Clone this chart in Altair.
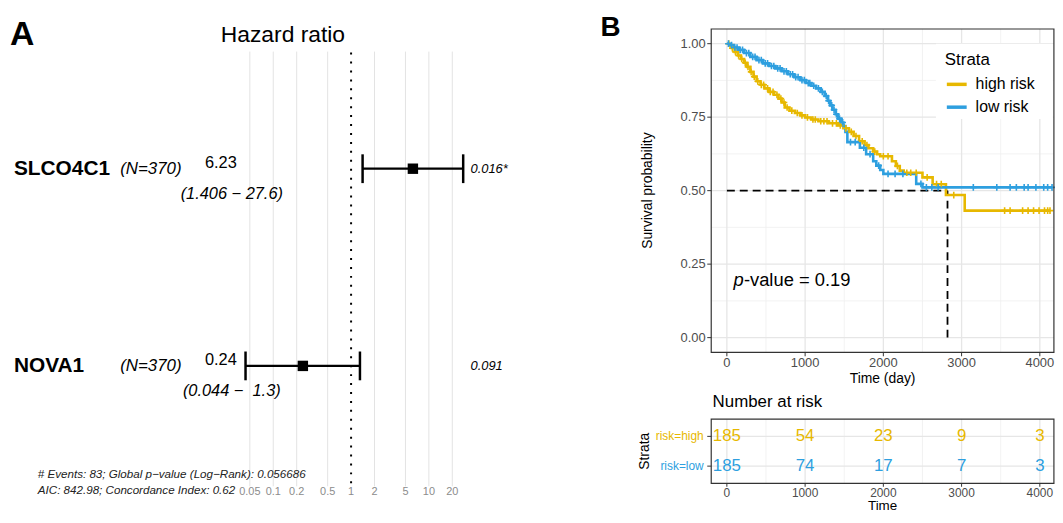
import bisect
import altair as alt
import pandas as pd

FONT = "Liberation Sans"
GOLD = "#E7B800"
BLUE = "#2E9FDF"

# ---------------- Panel A: forest plot data ----------------
genes = ["SLCO4C1", "NOVA1"]
gene_rows = [1, 0]
n_labels = ["(N=370)", "(N=370)"]
hr = [6.23, 0.24]
hr_lo = [1.406, 0.044]
hr_hi = [27.6, 1.3]
hr_text = ["6.23", "0.24"]
ci_text = ["(1.406 \u2212 27.6)", "(0.044 \u2212\u00a0 1.3)"]
p_text = ["0.016*", "0.091"]
hr_ticks = [0.05, 0.1, 0.2, 0.5, 1, 2, 5, 10, 20]
hr_tick_labels = ["0.05", "0.1", "0.2", "0.5", "1", "2", "5", "10", "20"]
footer_lines = ["# Events: 83; Global p\u2212value (Log\u2212Rank): 0.056686",
                "AIC: 842.98; Concordance Index: 0.62"]

# ---------------- Panel B: Kaplan-Meier data ----------------
strata_names = ["high risk", "low risk"]
high_t = [0, 30, 60, 100, 140, 180, 220, 260, 300, 340, 380, 430, 480, 540, 600, 660, 700, 740,
          800, 870, 940, 1000, 1080, 1170, 1300, 1420, 1490, 1560, 1620, 1690, 1760, 1810, 1870,
          1920, 1960, 2110, 2160, 2210, 2260, 2500, 2630, 2800, 3040, 4130]
high_s = [1.0, 0.994, 0.985, 0.972, 0.96, 0.948, 0.935, 0.921, 0.904, 0.888, 0.872, 0.86, 0.848,
          0.836, 0.826, 0.813, 0.8, 0.783, 0.772, 0.764, 0.756, 0.749, 0.742, 0.736, 0.729, 0.722,
          0.712, 0.7, 0.686, 0.668, 0.655, 0.644, 0.633, 0.624, 0.617, 0.6, 0.584, 0.568, 0.561,
          0.545, 0.522, 0.485, 0.432, 0.432]
low_t = [0, 40, 90, 150, 220, 300, 380, 460, 540, 620, 700, 780, 860, 940, 1010, 1080, 1140, 1200,
         1250, 1290, 1320, 1350, 1390, 1420, 1460, 1490, 1515, 1540, 1700, 1780, 1870, 1910, 1960,
         2000, 2420, 2500, 4156]
low_s = [1.0, 0.995, 0.987, 0.979, 0.968, 0.955, 0.944, 0.933, 0.924, 0.916, 0.906, 0.896, 0.886,
         0.876, 0.866, 0.857, 0.848, 0.836, 0.822, 0.806, 0.79, 0.775, 0.76, 0.745, 0.732, 0.72,
         0.7, 0.665, 0.646, 0.624, 0.6, 0.585, 0.57, 0.557, 0.523, 0.511, 0.511]
high_censor = [25, 70, 110, 150, 190, 235, 270, 310, 350, 395, 440, 470, 520, 555, 590, 640, 690,
               730, 770, 830, 900, 960, 1030, 1100, 1130, 1200, 1240, 1280, 1350, 1400, 1450, 1520,
               1590, 1650, 1730, 1790, 1890, 2000, 2060, 2180, 2300, 2350, 2420, 2560, 2680, 2740,
               2900, 3550, 3620, 3780, 3850, 3920, 3990, 4060, 4100, 4130]
low_censor = [20, 60, 100, 130, 170, 200, 250, 280, 330, 360, 410, 440, 490, 520, 570, 600, 650,
              680, 730, 760, 810, 840, 880, 910, 960, 990, 1040, 1060, 1110, 1170, 1220, 1270, 1300,
              1340, 1370, 1400, 1440, 1480, 1580, 1640, 1750, 1830, 1940, 2060, 2150, 2250, 2480,
              2550, 2620, 2700, 3150, 3450, 3620, 3700, 3800, 3850, 3950, 4050, 4100, 4156]
median_high = 2820
p_value_rest = "-value = 0.19"
km_xticks = [0, 1000, 2000, 3000, 4000]
km_xminor = [500, 1500, 2500, 3500]
km_xlabels = ["0", "1000", "2000", "3000", "4000"]
km_yticks = [0.0, 0.25, 0.5, 0.75, 1.0]
km_yminor = [0.125, 0.375, 0.625, 0.875]
km_ylabels = ["0.00", "0.25", "0.50", "0.75", "1.00"]

# ---------------- Number at risk ----------------
risk_times = [0, 1000, 2000, 3000, 4000]
risk_high = [185, 54, 23, 9, 3]
risk_low = [185, 74, 17, 7, 3]
risk_labels = ["risk=high", "risk=low"]


def one(text):
    return alt.Chart(pd.DataFrame({"t": [text]}))


# ================= Panel A =================
forest = pd.DataFrame(dict(gene=genes, row=gene_rows, n=n_labels, hr=hr, lo=hr_lo, hi=hr_hi,
                           hr_text=hr_text, ci=ci_text, p=p_text))
tick_df = pd.DataFrame({"v": hr_ticks, "lab": hr_tick_labels})
fx = alt.Scale(type="log", domain=[0.05, 20], range=[243.7, 447.7], nice=False)
fy = alt.Scale(domain=[0, 1], range=[358.7, 160], nice=False, zero=False)


def FX(f):
    return alt.X(f, scale=fx, axis=None)


def FY(f):
    return alt.Y(f, scale=fy, axis=None)


f_grid = alt.Chart(tick_df).transform_filter("datum.v != 1").mark_rule(
    color="#e3e3e3", strokeWidth=1).encode(x=FX("v:Q"), y=alt.value(42), y2=alt.value(480))
f_ref = alt.Chart(tick_df).transform_filter("datum.v == 1").mark_rule(
    color="black", strokeWidth=2, strokeDash=[2, 7]).encode(x=FX("v:Q"), y=alt.value(43), y2=alt.value(482))
f_ticklab = alt.Chart(tick_df).mark_text(fontSize=11, color="#8c8c8c", baseline="middle").encode(
    x=FX("v:Q"), y=alt.value(486), text="lab:N")
f_bar = alt.Chart(forest).mark_rule(color="black", strokeWidth=2.2).encode(
    x=FX("lo:Q"), x2="hi:Q", y=FY("row:Q"))
f_cap_lo = alt.Chart(forest).mark_tick(orient="vertical", size=29, thickness=2.5, color="black",
                                       opacity=1).encode(x=FX("lo:Q"), y=FY("row:Q"))
f_cap_hi = alt.Chart(forest).mark_tick(orient="vertical", size=29, thickness=2.5, color="black",
                                       opacity=1).encode(x=FX("hi:Q"), y=FY("row:Q"))
f_sq = alt.Chart(forest).mark_square(size=110, color="black", opacity=1).encode(
    x=FX("hr:Q"), y=FY("row:Q"))
f_gene = alt.Chart(forest).mark_text(align="left", baseline="middle", fontSize=21,
                                     fontWeight="bold", color="black").encode(
    x=alt.value(6), y=FY("row:Q"), text="gene:N")
f_n = alt.Chart(forest).mark_text(align="left", baseline="middle", fontSize=17,
                                  fontStyle="italic", color="black").encode(
    x=alt.value(113), y=FY("row:Q"), text="n:N")
f_hr = alt.Chart(forest).mark_text(align="right", baseline="middle", fontSize=16.5, dy=-6,
                                   color="black").encode(
    x=alt.value(230.5), y=FY("row:Q"), text="hr_text:N")
f_ci = alt.Chart(forest).mark_text(align="center", baseline="middle", fontSize=16.5, dy=25.5,
                                   fontStyle="italic", color="black").encode(
    x=alt.value(225.5), y=FY("row:Q"), text="ci:N")
f_p = alt.Chart(forest).mark_text(align="left", baseline="middle", fontSize=13,
                                  fontStyle="italic", color="black").encode(
    x=alt.value(466), y=FY("row:Q"), text="p:N")
f_foot = [one(txt).mark_text(align="left", baseline="middle", fontSize=11.7, fontStyle="italic",
                             color="#222222").encode(x=alt.value(30), y=alt.value(468 + 16 * i),
                                                     text="t:N")
          for i, txt in enumerate(footer_lines)]
f_title = one("Hazard ratio").mark_text(fontSize=23, baseline="middle", color="black").encode(
    x=alt.value(277), y=alt.value(25), text="t:N")
f_letter = one("A").mark_text(fontSize=34, fontWeight="bold", align="left", baseline="alphabetic",
                              color="black").encode(x=alt.value(2), y=alt.value(35), text="t:N")

forest_layer = alt.layer(f_grid, f_ref, f_ticklab, f_bar, f_cap_lo, f_cap_hi, f_sq, f_gene, f_n,
                         f_hr, f_ci, f_p, *f_foot, f_title, f_letter)

# ================= Panel B: KM =================
KX0, KX1 = 708.6, 1053.9
KY0, KY1 = 345.0, 19.2
kx_dom = [-200, 4180]


def KX(f):
    return alt.X(f, scale=alt.Scale(domain=kx_dom, range=[KX0, KX1], nice=False, zero=False), axis=None)


def KY(f):
    return alt.Y(f, scale=alt.Scale(domain=[-0.05, 1.05], range=[KY0, KY1], nice=False, zero=False),
                 axis=None)


km_df = pd.concat([
    pd.DataFrame({"t": high_t, "s": high_s, "strata": strata_names[0]}),
    pd.DataFrame({"t": low_t, "s": low_s, "strata": strata_names[1]}),
])


def surv_at(ts, ss, t):
    return ss[bisect.bisect_right(ts, t) - 1]


cens_df = pd.concat([
    pd.DataFrame({"t": high_censor, "s": [surv_at(high_t, high_s, c) for c in high_censor],
                  "strata": strata_names[0]}),
    pd.DataFrame({"t": low_censor, "s": [surv_at(low_t, low_s, c) for c in low_censor],
                  "strata": strata_names[1]}),
])
col_scale = alt.Scale(domain=strata_names, range=[GOLD, BLUE])

k_vmaj = alt.Chart(pd.DataFrame({"t": km_xticks})).mark_rule(color="#e6e6e6", strokeWidth=1.3).encode(
    x=KX("t:Q"), y=alt.value(KY1), y2=alt.value(KY0))
k_vmin = alt.Chart(pd.DataFrame({"t": km_xminor})).mark_rule(color="#efefef", strokeWidth=0.8).encode(
    x=KX("t:Q"), y=alt.value(KY1), y2=alt.value(KY0))
k_hmaj = alt.Chart(pd.DataFrame({"s": km_yticks})).mark_rule(color="#e6e6e6", strokeWidth=1.3).encode(
    y=KY("s:Q"), x=alt.value(KX0), x2=alt.value(KX1))
k_hmin = alt.Chart(pd.DataFrame({"s": km_yminor})).mark_rule(color="#efefef", strokeWidth=0.8).encode(
    y=KY("s:Q"), x=alt.value(KX0), x2=alt.value(KX1))
k_legbg = one("").mark_rect(color="white").encode(
    x=alt.value(935), x2=alt.value(KX1 - 1), y=alt.value(34), y2=alt.value(110))
med_df = pd.DataFrame({"t0": [0], "t1": [median_high], "s0": [0.0], "s1": [0.5]})
k_med_h = alt.Chart(med_df).mark_rule(color="black", strokeWidth=1.8, strokeDash=[8, 5]).encode(
    x=KX("t0:Q"), x2="t1:Q", y=KY("s1:Q"))
k_med_v = alt.Chart(med_df).mark_rule(color="black", strokeWidth=1.8, strokeDash=[8, 5]).encode(
    x=KX("t1:Q"), y=KY("s0:Q"), y2="s1:Q")
k_line = alt.Chart(km_df).mark_line(interpolate="step-after", strokeWidth=2.6).encode(
    x=KX("t:Q"), y=KY("s:Q"),
    color=alt.Color("strata:N", scale=col_scale, legend=alt.Legend(
        orient="none", legendX=937, legendY=36, title="Strata", titleFont=FONT, titleFontSize=17,
        titleFontWeight="normal", titleColor="black", labelFont=FONT, labelFontSize=16,
        labelColor="black", symbolType="stroke", symbolSize=400, symbolStrokeWidth=3.5,
        labelOffset=7, rowPadding=3, titlePadding=3, padding=7)))
k_cens = alt.Chart(cens_df).mark_point(shape="M-1,0L1,0M0,-1L0,1", filled=False, size=45,
                                       strokeWidth=1.6, opacity=1).encode(
    x=KX("t:Q"), y=KY("s:Q"), color=alt.Color("strata:N", scale=col_scale, legend=None))
k_border = one("").mark_rect(fillOpacity=0, stroke="#333333", strokeWidth=1.2).encode(
    x=alt.value(KX0), x2=alt.value(KX1), y=alt.value(KY1), y2=alt.value(KY0))
ky_df = pd.DataFrame({"s": km_yticks, "lab": km_ylabels})
kx_df = pd.DataFrame({"t": km_xticks, "lab": km_xlabels})
k_ylab = alt.Chart(ky_df).mark_text(align="right", baseline="middle", fontSize=13, color="#4d4d4d").encode(
    x=alt.value(703), y=KY("s:Q"), text="lab:N")
k_ytick = alt.Chart(ky_df).mark_rule(color="#333333", strokeWidth=1).encode(
    y=KY("s:Q"), x=alt.value(704.6), x2=alt.value(KX0))
k_xlab = alt.Chart(kx_df).mark_text(align="center", baseline="middle", fontSize=13, color="#4d4d4d").encode(
    x=KX("t:Q"), y=alt.value(356), text="lab:N")
k_xtick = alt.Chart(kx_df).mark_rule(color="#333333", strokeWidth=1).encode(
    x=KX("t:Q"), y=alt.value(KY0), y2=alt.value(349))
k_xtitle = one("Time (day)").mark_text(fontSize=14, baseline="middle", color="black").encode(
    x=alt.value((KX0 + KX1) / 2), y=alt.value(372), text="t:N")
k_ytitle = one("Survival probability").mark_text(fontSize=14, baseline="middle", angle=270,
                                                 color="black").encode(
    x=alt.value(644.5), y=alt.value((KY0 + KY1) / 2), text="t:N")
k_p1 = one("p").mark_text(fontSize=18.5, fontStyle="italic", align="left", baseline="middle",
                          color="black").encode(x=alt.value(731), y=alt.value(272), text="t:N")
k_p2 = one(p_value_rest).mark_text(fontSize=18.5, align="left", baseline="middle", color="black").encode(
    x=alt.value(741.5), y=alt.value(272), text="t:N")
k_letter = one("B").mark_text(fontSize=28, fontWeight="bold", align="left", baseline="alphabetic",
                              color="black").encode(x=alt.value(597), y=alt.value(26), text="t:N")

km_layer = alt.layer(k_vmin, k_hmin, k_vmaj, k_hmaj, k_legbg, k_med_h, k_med_v, k_line, k_cens,
                     k_border, k_ylab, k_ytick, k_xlab, k_xtick, k_xtitle, k_ytitle, k_p1, k_p2,
                     k_letter)

# ================= Panel B: risk table =================
RY0, RY1 = 477.0, 412.4


def RX(f):
    return alt.X(f, scale=alt.Scale(domain=kx_dom, range=[KX0, KX1], nice=False, zero=False), axis=None)


def RY(f):
    return alt.Y(f, scale=alt.Scale(domain=[-0.577, 1.577], range=[RY0, RY1], nice=False, zero=False),
                 axis=None)


risk_df = pd.concat([
    pd.DataFrame({"t": risk_times, "n": risk_high, "row": 1, "strata": "high"}),
    pd.DataFrame({"t": risk_times, "n": risk_low, "row": 0, "strata": "low"}),
])
rlab_df = pd.DataFrame({"row": [1, 0], "lab": risk_labels, "strata": ["high", "low"]})
r_col = alt.Color("strata:N", scale=alt.Scale(domain=["high", "low"], range=[GOLD, BLUE]), legend=None)

r_vmaj = alt.Chart(pd.DataFrame({"t": km_xticks})).mark_rule(color="#e6e6e6", strokeWidth=1.3).encode(
    x=RX("t:Q"), y=alt.value(RY1), y2=alt.value(RY0))
r_vmin = alt.Chart(pd.DataFrame({"t": km_xminor})).mark_rule(color="#efefef", strokeWidth=0.8).encode(
    x=RX("t:Q"), y=alt.value(RY1), y2=alt.value(RY0))
r_hmaj = alt.Chart(rlab_df).mark_rule(color="#e6e6e6", strokeWidth=1.3).encode(
    y=RY("row:Q"), x=alt.value(KX0), x2=alt.value(KX1))
r_num = alt.Chart(risk_df).mark_text(fontSize=17, baseline="middle").encode(
    x=RX("t:Q"), y=RY("row:Q"), text="n:N", color=r_col)
r_border = one("").mark_rect(fillOpacity=0, stroke="#333333", strokeWidth=1.2).encode(
    x=alt.value(KX0), x2=alt.value(KX1), y=alt.value(RY1), y2=alt.value(RY0))
r_ylab = alt.Chart(rlab_df).mark_text(align="right", baseline="middle", fontSize=12).encode(
    x=alt.value(701), y=RY("row:Q"), text="lab:N", color=r_col)
r_ytick = alt.Chart(rlab_df).mark_rule(color="#333333", strokeWidth=1).encode(
    y=RY("row:Q"), x=alt.value(704.6), x2=alt.value(KX0))
r_xlab = alt.Chart(kx_df).mark_text(align="center", baseline="middle", fontSize=12, color="#4d4d4d").encode(
    x=RX("t:Q"), y=alt.value(486.5), text="lab:N")
r_xtick = alt.Chart(kx_df).mark_rule(color="#333333", strokeWidth=1).encode(
    x=RX("t:Q"), y=alt.value(RY0), y2=alt.value(480.5))
r_xtitle = one("Time").mark_text(fontSize=13.5, baseline="middle", color="black").encode(
    x=alt.value((KX0 + KX1) / 2), y=alt.value(500), text="t:N")
r_ytitle = one("Strata").mark_text(fontSize=14, baseline="middle", angle=270, color="black").encode(
    x=alt.value(642), y=alt.value((RY0 + RY1) / 2), text="t:N")
r_title = one("Number at risk").mark_text(fontSize=17, align="left", baseline="middle",
                                          color="black").encode(x=alt.value(710), y=alt.value(395),
                                                                text="t:N")

risk_layer = alt.layer(r_vmin, r_vmaj, r_hmaj, r_num, r_border, r_ylab, r_ytick, r_xlab, r_xtick,
                       r_xtitle, r_ytitle, r_title)

chart = alt.layer(forest_layer, km_layer, risk_layer).resolve_scale(
    x="independent", y="independent", color="independent"
).properties(
    width=1055, height=507, autosize=alt.AutoSizeParams(type="none"), padding=0, background="white"
).configure(font=FONT).configure_view(stroke=None)

chart.save("out.html", embed_options={"renderer": "svg", "actions": False})
